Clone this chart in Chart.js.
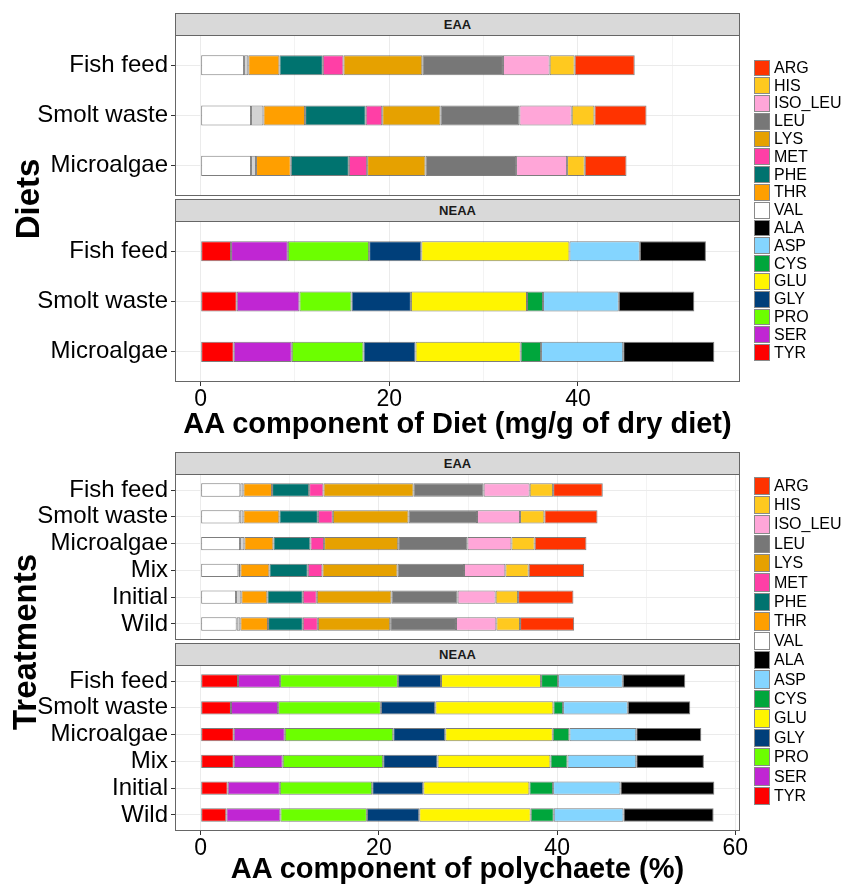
<!DOCTYPE html>
<html>
<head>
<meta charset="utf-8">
<script src="https://cdn.jsdelivr.net/npm/chart.js@4.4.0/dist/chart.umd.min.js"></script>
<style>
  html, body { margin: 0; padding: 0; background: #fff; }
  #fig { position: relative; width: 845px; height: 885px; overflow: hidden;
         font-family: "Liberation Sans", Arial, sans-serif; color: #000; }
  #fig canvas { position: absolute; left: 0; }
  .strip { position: absolute; left: 175px; width: 565px; height: 23px; box-sizing: border-box;
           background: #d9d9d9; border: 1px solid #666; text-align: center;
           font-weight: bold; font-size: 13px; line-height: 21px; color: #1a1a1a; }
  .xtitle { position: absolute; left: 175px; width: 565px; text-align: center;
            font-weight: bold; font-size: 29px; line-height: 34px; white-space: nowrap; }
  .ytitle { position: absolute; width: 300px; height: 38px; text-align: center;
            font-weight: bold; font-size: 33px; line-height: 38px; white-space: nowrap;
            transform: rotate(-90deg); }
  .legend { position: absolute; left: 754px; }
  .lg-row { display: flex; align-items: center; }
  .lg-key { width: 16px; box-sizing: border-box; border: 1px solid #8a8a8a; }
  .lg-lab { margin-left: 4px; font-size: 16px; line-height: 16px; white-space: nowrap; }
</style>
</head>
<body>
<div id="fig">
  <div class="strip" style="top:13px">EAA</div>
  <div class="strip" style="top:199px">NEAA</div>
  <div class="xtitle" style="top:406px">AA component of Diet (mg/g of dry diet)</div>
  <div class="ytitle" style="left:-122px;top:180px">Diets</div>

  <div class="strip" style="top:452px">EAA</div>
  <div class="strip" style="top:643px">NEAA</div>
  <div class="xtitle" style="top:851px">AA component of polychaete (%)</div>
  <div class="ytitle" style="left:-125px;top:623px">Treatments</div>
</div>
<script>
// Diets fed to the polychaetes and the polychaete treatments
const dietLabels = ['Fish feed', 'Smolt waste', 'Microalgae'];
const treatmentLabels = ['Fish feed', 'Smolt waste', 'Microalgae', 'Mix', 'Initial', 'Wild'];

// Amino acids in stacking order, from zero outwards
const eaaAcids = ['VAL', 'TRP', 'THR', 'PHE', 'MET', 'LYS', 'LEU', 'ISO_LEU', 'HIS', 'ARG'];
const neaaAcids = ['TYR', 'SER', 'PRO', 'GLY', 'GLU', 'CYS', 'ASP', 'ALA'];

// Legend entries, top to bottom
const legendAcids = ['ARG', 'HIS', 'ISO_LEU', 'LEU', 'LYS', 'MET', 'PHE', 'THR', 'VAL',
                     'ALA', 'ASP', 'CYS', 'GLU', 'GLY', 'PRO', 'SER', 'TYR'];

// mg/g of dry diet: one row per acid (eaaAcids order), columns follow dietLabels
const dietEAA = [
  [4.60, 5.34, 5.34],   // VAL
  [0.45, 1.31, 0.53],   // TRP
  [3.30, 4.42, 3.68],   // THR
  [4.60, 6.43, 6.16],   // PHE
  [2.19, 1.75, 1.94],   // MET
  [8.36, 6.19, 6.19],   // LYS
  [8.55, 8.35, 9.60],   // LEU
  [4.95, 5.55, 5.41],   // ISO_LEU
  [2.65, 2.41, 1.87],   // HIS
  [6.37, 5.52, 4.43]    // ARG
];
// mg/g of dry diet: one row per acid (neaaAcids order)
const dietNEAA = [
  [3.22, 3.82, 3.50],   // TYR
  [6.02, 6.65, 6.16],   // SER
  [8.62, 5.52, 7.60],   // PRO
  [5.53, 6.30, 5.52],   // GLY
  [15.71, 12.31, 11.15],// GLU
  [0.00, 1.70, 2.16],   // CYS
  [7.46, 8.03, 8.71],   // ASP
  [7.01, 8.01, 9.66]    // ALA
];
// % of polychaete: one row per acid (eaaAcids order), columns follow treatmentLabels
const polyEAA = [
  [4.45, 4.38, 4.42, 4.23, 3.97, 4.04],   // VAL
  [0.34, 0.41, 0.48, 0.22, 0.59, 0.41],   // TRP
  [3.22, 4.04, 3.26, 3.26, 2.92, 3.11],   // THR
  [4.16, 4.32, 4.15, 4.31, 3.98, 3.90],   // PHE
  [1.61, 1.68, 1.54, 1.64, 1.57, 1.69],   // MET
  [10.11, 8.50, 8.32, 8.43, 8.39, 8.12],  // LYS
  [7.86, 7.68, 7.76, 7.46, 7.41, 7.38],   // LEU
  [5.17, 4.83, 4.94, 4.64, 4.27, 4.53],   // ISO_LEU
  [2.63, 2.73, 2.61, 2.62, 2.52, 2.66],   // HIS
  [5.57, 5.96, 5.81, 6.22, 6.21, 6.07]    // ARG
];
// % of polychaete: one row per acid (neaaAcids order)
const polyNEAA = [
  [4.19, 3.40, 3.71, 3.71, 3.03, 2.88],   // TYR
  [4.72, 5.29, 5.73, 5.50, 5.85, 6.06],   // SER
  [13.22, 11.53, 12.17, 11.27, 10.37, 9.71], // PRO
  [4.84, 6.11, 5.84, 6.10, 5.73, 5.88],   // GLY
  [11.23, 13.25, 12.06, 12.67, 11.91, 12.50], // GLU
  [1.91, 1.09, 1.87, 1.91, 2.66, 2.59],   // CYS
  [7.26, 7.26, 7.50, 7.72, 7.56, 7.83],   // ASP
  [7.01, 7.01, 7.30, 7.59, 10.53, 10.11]  // ALA
];

const acidColors = {
  ARG: '#ff3300', HIS: '#ffc91f', ISO_LEU: '#ffa6d8', LEU: '#777777', LYS: '#e6a100',
  MET: '#ff3fa6', PHE: '#00736f', THR: '#ff9f00', VAL: '#ffffff', TRP: '#d3d3d3',
  ALA: '#000000', ASP: '#84d5ff', CYS: '#00a63c', GLU: '#fff500', GLY: '#003f7a',
  PRO: '#6cff00', SER: '#c026d3', TYR: '#ff0000'
};

const FONT = '"Liberation Sans", Arial, sans-serif';
const FIG_W = 845, PANEL_LEFT = 175, PANEL_RIGHT = 740;

// Full frame round each facet panel
const panelFrame = {
  id: 'panelFrame',
  afterDraw(chart) {
    const { ctx, chartArea: a } = chart;
    ctx.save();
    ctx.strokeStyle = '#666';
    ctx.lineWidth = 1;
    ctx.strokeRect(Math.round(a.left) + 0.5, Math.round(a.top) + 0.5,
                   Math.round(a.right - a.left) - 1, Math.round(a.bottom - a.top) - 1);
    ctx.restore();
  }
};

function stackTotals(rows) {
  return rows[0].map((_, i) => rows.reduce((s, r) => s + r[i], 0));
}

function addPanel({ top, height, labels, acids, rows, xLimit, showX, barWidth }) {
  const bottomExtra = showX ? 40 : 2;
  const canvas = document.createElement('canvas');
  canvas.width = FIG_W;
  canvas.height = height + 2 + bottomExtra;
  canvas.style.top = (top - 2) + 'px';
  canvas.style.width = FIG_W + 'px';
  canvas.style.height = canvas.height + 'px';
  const fig = document.getElementById('fig');
  fig.insertBefore(canvas, fig.firstChild);

  const datasets = acids.map((acid, k) => ({
    label: acid,
    data: rows[k].map((v, i) => ({ x: v, y: i + 1 })),
    backgroundColor: acidColors[acid],
    borderColor: 'rgba(70,70,70,0.7)',
    borderWidth: 1,
    borderSkipped: false,
    categoryPercentage: 1,
    barPercentage: barWidth
  }));

  const pad = xLimit * 0.05;
  const isMajor = v => Math.abs(v % 20) < 1e-9;

  new Chart(canvas, {
    type: 'bar',
    data: { datasets },
    plugins: [panelFrame],
    options: {
      indexAxis: 'y',
      responsive: false,
      animation: false,
      events: [],
      layout: { autoPadding: false,
                padding: { top: 2, left: 0, right: FIG_W - PANEL_RIGHT, bottom: showX ? 0 : 2 } },
      plugins: { legend: { display: false }, tooltip: { enabled: false } },
      scales: {
        x: {
          type: 'linear', stacked: true, min: -pad, max: xLimit + pad, offset: false,
          afterBuildTicks: s => {
            const t = [];
            for (let v = 0; v <= xLimit + pad; v += 10) t.push({ value: v });
            s.ticks = t;
          },
          afterFit: s => { s.height = showX ? 40 : 0; s.paddingLeft = 0; s.paddingRight = 0; },
          border: { display: false },
          grid: {
            offset: false,
            color: c => (c.tick && isMajor(c.tick.value)) ? '#ebebeb' : '#f3f3f3',
            lineWidth: 1,
            drawTicks: showX,
            tickLength: 4,
            tickWidth: 1,
            tickColor: c => (c.tick && isMajor(c.tick.value)) ? '#333' : 'rgba(0,0,0,0)'
          },
          ticks: {
            display: showX, autoSkip: false, maxRotation: 0, padding: 0,
            color: '#000', font: { family: FONT, size: 23 },
            callback: v => isMajor(v) ? String(v) : ''
          }
        },
        y: {
          type: 'linear', stacked: true, reverse: true, offset: false,
          min: 0.4, max: labels.length + 0.6,
          afterBuildTicks: s => { s.ticks = labels.map((_, i) => ({ value: i + 1 })); },
          afterFit: s => { s.width = PANEL_LEFT; s.paddingTop = 0; s.paddingBottom = 0; },
          border: { display: false },
          grid: { offset: false, color: '#ebebeb', lineWidth: 1, drawTicks: true,
                  tickLength: 4, tickColor: '#333' },
          ticks: {
            autoSkip: false, padding: 3, color: '#000',
            font: { family: FONT, size: 24 },
            callback: v => labels[Math.round(v) - 1]
          }
        }
      }
    }
  });
}

// Diet half: shared x range for both facets
const dietMax = Math.max(...stackTotals(dietEAA), ...stackTotals(dietNEAA));
addPanel({ top: 35, height: 161, labels: dietLabels, acids: eaaAcids, rows: dietEAA,
           xLimit: dietMax, showX: false, barWidth: 0.4 });
addPanel({ top: 221, height: 161, labels: dietLabels, acids: neaaAcids, rows: dietNEAA,
           xLimit: dietMax, showX: true, barWidth: 0.4 });

// Polychaete half
const polyMax = Math.max(...stackTotals(polyEAA), ...stackTotals(polyNEAA));
addPanel({ top: 474, height: 166, labels: treatmentLabels, acids: eaaAcids, rows: polyEAA,
           xLimit: polyMax, showX: false, barWidth: 0.5 });
addPanel({ top: 665, height: 166, labels: treatmentLabels, acids: neaaAcids, rows: polyNEAA,
           xLimit: polyMax, showX: true, barWidth: 0.5 });

// Legends (TRP carries no legend entry)
function addLegend(top, rowH) {
  const box = document.createElement('div');
  box.className = 'legend';
  box.style.top = top + 'px';
  legendAcids.forEach(acid => {
    const row = document.createElement('div');
    row.className = 'lg-row';
    row.style.height = rowH + 'px';
    const key = document.createElement('div');
    key.className = 'lg-key';
    key.style.height = (rowH - 1) + 'px';
    key.style.background = acidColors[acid];
    const lab = document.createElement('div');
    lab.className = 'lg-lab';
    lab.textContent = acid;
    row.appendChild(key);
    row.appendChild(lab);
    box.appendChild(row);
  });
  document.getElementById('fig').appendChild(box);
}
addLegend(59, 17.8);
addLegend(476, 19.4);
</script>
</body>
</html>
